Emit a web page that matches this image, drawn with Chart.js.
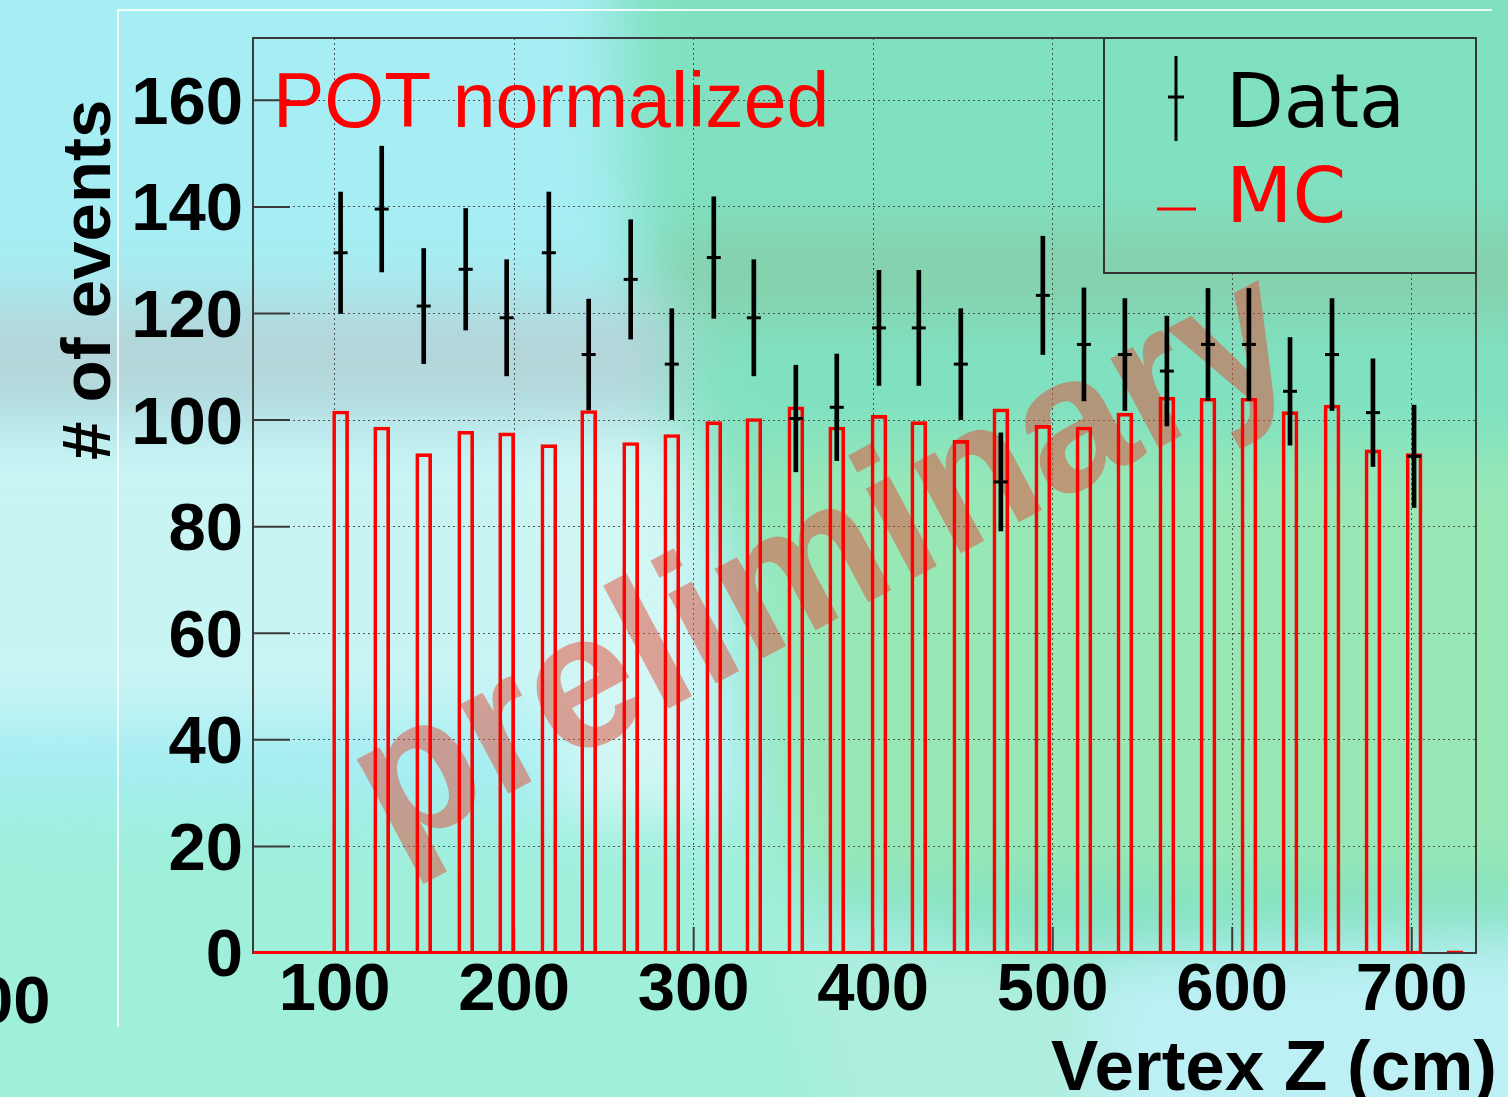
<!DOCTYPE html>
<html>
<head>
<meta charset="utf-8">
<script src="https://cdn.jsdelivr.net/npm/chart.js@4.4.1/dist/chart.umd.min.js"></script>
<style>
html,body{margin:0;padding:0;width:1508px;height:1097px;overflow:hidden;background:#a6eef3;}
#bg{position:absolute;left:-100px;top:-100px;width:1708px;height:1297px;filter:blur(30px);}
#bg div{position:absolute;left:0;top:0;width:1708px;height:1297px;}
.wl{position:absolute;background:rgba(255,255,255,0.85);}
#stray{position:absolute;left:-24px;top:966px;font:bold 67px/67px "Liberation Sans",Arial,sans-serif;color:#000;}
#wrap{position:absolute;left:0;top:0;width:1508px;height:1097px;}
</style>
</head>
<body>
<div id="bg"></div>
<div class="wl" style="left:117px;top:9px;width:2px;height:1018px;"></div>
<div class="wl" style="left:117px;top:9px;width:1375px;height:2px;"></div>
<div id="stray">00</div>
<div id="wrap"><canvas id="c" width="1508" height="1097"></canvas></div>
<script>
// ---------------- data ----------------
const binCenters = [103.3,126.2,149.6,173.0,195.8,219.3,241.5,264.9,287.8,311.2,333.5,356.9,379.7,403.2,425.4,448.8,471.1,494.5,517.4,540.2,563.6,586.5,609.3,632.2,655.6,678.4,701.3,724.1];
const mcValues = [101.7,98.7,93.7,97.9,97.6,95.4,101.8,95.8,97.3,99.7,100.3,102.5,98.7,100.9,99.7,96.2,102.1,99.0,98.7,101.3,104.3,104.1,104.1,101.6,102.8,94.4,93.7,0.4];
const dataValues = [131.4,139.6,121.4,128.3,119.2,131.4,112.3,126.4,110.5,130.5,119.2,100.3,102.4,117.3,117.3,110.5,88.4,123.4,114.2,112.3,109.2,114.2,114.2,105.4,112.3,101.4,93.2];
const dataErrors = [11.4,11.8,10.8,11.4,10.9,11.4,10.4,11.2,10.4,11.4,10.9,10.0,10.0,10.8,10.8,10.4,9.2,11.1,10.6,10.5,10.3,10.5,10.5,10.1,10.5,10.1,9.6];
const xTickValues = [100,200,300,400,500,600,700];
const yTickValues = [0,20,40,60,80,100,120,140,160];
const xRange = [54.5, 735.8];
const yRange = [0, 171.7];

// ---------------- background (slide) ----------------
const bgLayers = [
  ['#80e1c0', [[615,-200],[1800,-200],[1800,950],[1100,960],[780,900],[740,560],[650,420],[615,0]]],
  ['#98e8b6', [[745,450],[1800,450],[1800,880],[780,880]]],
  ['#86cfab', [[660,230],[1800,230],[1800,315],[680,315]]],
  ['#b4d5d9', [[-200,300],[680,300],[680,415],[-200,415]]],
  ['#c9f4f4', [[-200,430],[700,430],[720,720],[-200,720]]],
  ['#d2f7f5', [[530,430],[690,430],[720,840],[560,840]]],
  ['#9fefdb', [[-200,800],[780,820],[1000,1400],[-200,1400]]],
  ['#aeeedc', [[780,930],[1100,960],[1060,1400],[900,1400]]],
  ['#bcf0f5', [[1100,950],[1800,920],[1800,1400],[1060,1400]]]
];
const bg = document.getElementById('bg');
bgLayers.forEach(([col, pts]) => {
  const d = document.createElement('div');
  d.style.background = col;
  d.style.clipPath = 'polygon(' + pts.map(p => (p[0]+100)+'px '+(p[1]+100)+'px').join(',') + ')';
  bg.appendChild(d);
});

// ---------------- datasets built from arrays ----------------
const mcPoints = binCenters.map((x, i) => ({x: x, y: mcValues[i]}));
const dataPoints = dataValues.map((v, i) => ({x: binCenters[i], y: v}));
const errPoints = dataValues.map((v, i) => ({x: binCenters[i], y: [v - dataErrors[i], v + dataErrors[i]]}));

const SANS = '"Liberation Sans", Arial, sans-serif';
const LEG = '"DejaVu Sans", sans-serif';

const rootStyle = {
  id: 'rootStyle',
  beforeDatasetsDraw(chart) {
    const {ctx, chartArea: a, scales: {x, y}} = chart;
    // legend box is opaque (no grid inside) -> clear to background
    ctx.clearRect(1105, a.top + 1, a.right - 1106, 234);
    // watermark
    ctx.save();
    ctx.translate(850, 612);
    ctx.rotate(-28 * Math.PI / 180);
    ctx.font = 'bold 192px ' + SANS;
    ctx.fillStyle = 'rgba(225,75,55,0.5)';
    ctx.textAlign = 'center';
    ctx.textBaseline = 'alphabetic';
    ctx.fillText('preliminary', 0, 0);
    ctx.restore();
    // frame
    ctx.save();
    ctx.strokeStyle = '#3a3a3a';
    ctx.lineWidth = 2;
    ctx.strokeRect(a.left, a.top, a.right - a.left, a.bottom - a.top);
    // inner major ticks
    ctx.beginPath();
    yTickValues.forEach(v => { const py = y.getPixelForValue(v); ctx.moveTo(a.left, py); ctx.lineTo(a.left + 37, py); });
    xTickValues.forEach(v => { const px = x.getPixelForValue(v); ctx.moveTo(px, a.bottom); ctx.lineTo(px, a.bottom - 26); });
    ctx.stroke();
    // red histogram baseline
    let last = 0;
    mcValues.forEach((v, i) => { if (v > 1) last = i; });
    ctx.strokeStyle = '#ff0000';
    ctx.lineWidth = 3;
    ctx.beginPath();
    ctx.moveTo(a.left, a.bottom - 0.5);
    ctx.lineTo(x.getPixelForValue(binCenters[last]) + 8, a.bottom - 0.5);
    ctx.stroke();
    ctx.restore();
  },
  afterDraw(chart) {
    const {ctx, chartArea: a} = chart;
    ctx.save();
    // text label
    ctx.fillStyle = '#ff0000';
    ctx.font = '77px ' + SANS;
    ctx.textAlign = 'left';
    ctx.textBaseline = 'alphabetic';
    ctx.fillText('POT normalized', 273, 127);
    // legend box
    ctx.strokeStyle = '#333';
    ctx.lineWidth = 2;
    ctx.strokeRect(1104, a.top, a.right - 1104, 235);
    // Data marker
    ctx.strokeStyle = '#000';
    ctx.lineWidth = 3;
    ctx.beginPath();
    ctx.moveTo(1176, 56); ctx.lineTo(1176, 141);
    ctx.moveTo(1168, 97); ctx.lineTo(1184, 97);
    ctx.stroke();
    // MC marker
    ctx.strokeStyle = '#ff0000';
    ctx.beginPath();
    ctx.moveTo(1157, 209); ctx.lineTo(1196, 209);
    ctx.stroke();
    const ds = chart.data.datasets;
    ctx.font = '75px ' + LEG;
    ctx.fillStyle = '#000';
    ctx.fillText(ds[0].label, 1226, 127);
    ctx.fillStyle = '#ff0000';
    ctx.font = '77px ' + LEG;
    ctx.fillText(ds[2].label, 1226, 222);
    // axis titles
    ctx.fillStyle = '#000';
    ctx.font = 'bold 71px ' + SANS;
    ctx.textAlign = 'right';
    ctx.fillText('Vertex Z (cm)', 1497, 1090);
    ctx.translate(110, 460);
    ctx.rotate(-Math.PI / 2);
    ctx.textAlign = 'left';
    ctx.font = 'bold 69px ' + SANS;
    ctx.fillText('# of events', 0, 0);
    ctx.restore();
  }
};

const tickFont = {family: SANS, size: 67, weight: 'bold', lineHeight: 1};
const gridCfg = {color: 'rgba(60,60,60,0.85)', lineWidth: 1, drawTicks: false, offset: false};
const zeroPad = s => { s.paddingLeft = 0; s.paddingRight = 0; s.paddingTop = 0; s.paddingBottom = 0; };

new Chart(document.getElementById('c'), {
  type: 'bar',
  data: {
    datasets: [
      {type: 'line', label: 'Data', data: dataPoints, showLine: false, pointStyle: 'line',
       pointRadius: 7, pointHoverRadius: 7, pointBorderWidth: 3, pointBorderColor: '#000', pointBackgroundColor: '#000', order: 1},
      {type: 'bar', label: 'Data errors', data: errPoints, backgroundColor: '#000', borderWidth: 0,
       barThickness: 4, grouped: false, order: 2},
      {type: 'bar', label: 'MC', data: mcPoints, backgroundColor: 'rgba(0,0,0,0)', borderColor: '#ff0000',
       borderWidth: 3, borderSkipped: 'start', barThickness: 16, grouped: false, order: 3}
    ]
  },
  options: {
    responsive: false,
    animation: false,
    events: [],
    devicePixelRatio: 1,
    layout: {padding: {top: 38, right: 32, left: 0, bottom: 0}},
    plugins: {legend: {display: false}, tooltip: {enabled: false}, title: {display: false}},
    scales: {
      x: {
        type: 'linear', min: xRange[0], max: xRange[1], offset: false,
        grid: gridCfg,
        border: {display: false, dash: [2, 3]},
        ticks: {font: tickFont, color: '#000', padding: 5, maxRotation: 0, autoSkip: false, includeBounds: false},
        afterBuildTicks: s => { s.ticks = xTickValues.map(v => ({value: v})); },
        afterFit: s => { s.height = 144; zeroPad(s); }
      },
      y: {
        type: 'linear', min: yRange[0], max: yRange[1],
        grid: gridCfg,
        border: {display: false, dash: [2, 3]},
        ticks: {font: tickFont, color: '#000', padding: 10, labelOffset: 5, autoSkip: false, includeBounds: false},
        afterBuildTicks: s => { s.ticks = yTickValues.map(v => ({value: v})); },
        afterFit: s => { s.width = 253; zeroPad(s); }
      }
    }
  },
  plugins: [rootStyle]
});
</script>
</body>
</html>
